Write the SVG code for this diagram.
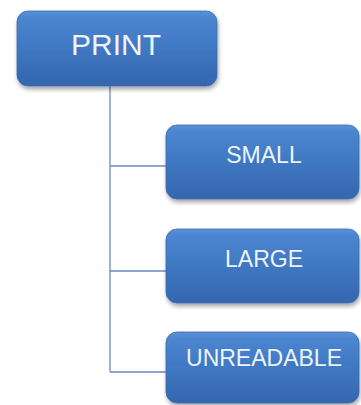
<svg xmlns="http://www.w3.org/2000/svg" width="361" height="405" viewBox="0 0 361 405">
<defs>
<linearGradient id="g" x1="0" y1="0" x2="0" y2="1">
<stop offset="0" stop-color="#5b93d8"/>
<stop offset="0.08" stop-color="#4c86d0"/>
<stop offset="0.5" stop-color="#3f78c2"/>
<stop offset="1" stop-color="#3466ad"/>
</linearGradient>
<filter id="sh" x="-10%" y="-10%" width="120%" height="130%">
<feGaussianBlur in="SourceAlpha" stdDeviation="2"/>
<feOffset dx="1" dy="3" result="b"/>
<feComponentTransfer><feFuncA type="linear" slope="0.35"/></feComponentTransfer>
<feMerge><feMergeNode/><feMergeNode in="SourceGraphic"/></feMerge>
</filter>
</defs>
<style>
.box{fill:url(#g);stroke:#3a6cb0;stroke-width:0.8;filter:url(#sh)}
.t{font-family:"Liberation Sans",Arial,sans-serif;fill:#eef4fc;text-anchor:middle}
.c{stroke:#6a8bbf;stroke-width:1.3;fill:none}
</style>
<rect width="361" height="405" fill="#ffffff"/>
<g id="connectors">
<path class="c" d="M110 86 V372 M110 166 H166 M110 271 H166 M110 372 H166"/>
</g>
<g id="print">
<rect class="box" x="17" y="11" width="200" height="75" rx="11"/>
<text class="t" x="116" y="55" font-size="30">PRINT</text>
</g>
<g id="small">
<rect class="box" x="166" y="125" width="193" height="74" rx="11"/>
<text class="t" x="264" y="163" font-size="23">SMALL</text>
</g>
<g id="large">
<rect class="box" x="166" y="229" width="193" height="74" rx="11"/>
<text class="t" x="264" y="267" font-size="23">LARGE</text>
</g>
<g id="unreadable">
<rect class="box" x="166" y="332" width="193" height="71" rx="11"/>
<text class="t" x="264" y="366" font-size="23">UNREADABLE</text>
</g>
</svg>
